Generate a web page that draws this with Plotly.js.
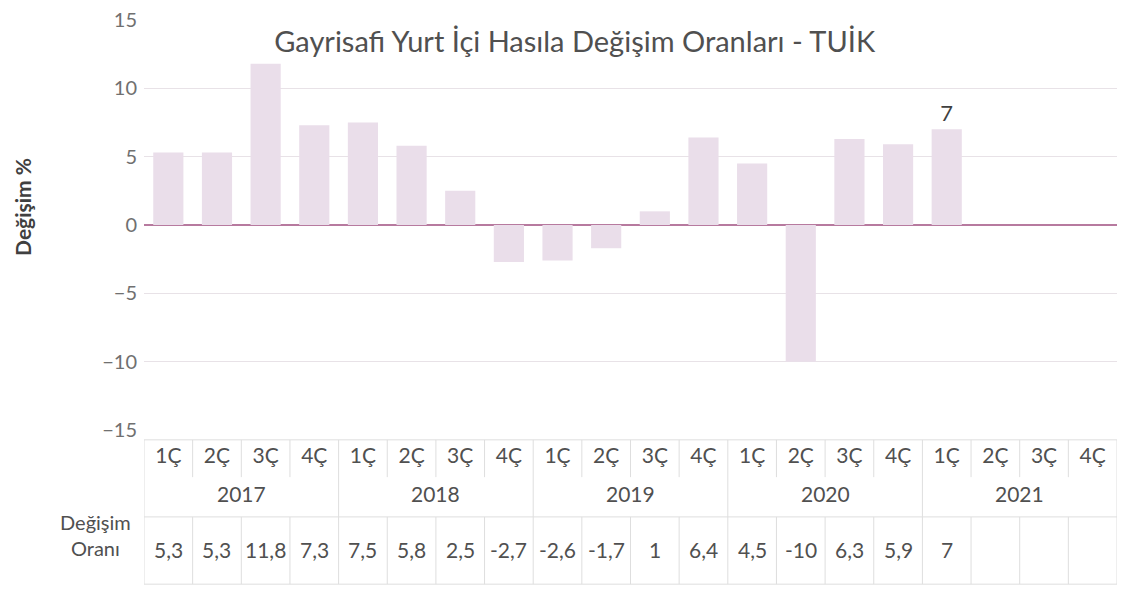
<!DOCTYPE html>
<html>
<head>
<meta charset="utf-8">
<script src="https://cdn.plot.ly/plotly-3.0.1.min.js"></script>
<style>
  html, body { margin: 0; padding: 0; background: #ffffff; }
  #chart { width: 1138px; height: 592px; }
</style>
</head>
<body>
<div id="chart"></div>
<script>
// ---- Data ----
var years = ["2017", "2018", "2019", "2020", "2021"];
var quarters = ["1Ç", "2Ç", "3Ç", "4Ç"];
var values = [5.3, 5.3, 11.8, 7.3, 7.5, 5.8, 2.5, -2.7, -2.6, -1.7, 1, 6.4, 4.5, -10, 6.3, 5.9, 7, null, null, null];
var labelledIndex = [16];              // only this bar carries a data label
var rowHeader = "Değişim<br>Oranı";
var chartTitle = "Gayrisafi Yurt İçi Hasıla Değişim Oranları - TUİK";
var yTitle = "Değişim %";

// ---- Build categories ----
var cats = [], tickText = [];
years.forEach(function (y) {
  quarters.forEach(function (q) { cats.push(y + "-" + q); tickText.push(q); });
});
function fmt(v) { return (v === null) ? "" : String(v).replace(".", ","); }
var barText = values.map(function (v, i) { return labelledIndex.indexOf(i) >= 0 ? fmt(v) : ""; });

var FONT = "Lato, 'Open Sans', 'DejaVu Sans', sans-serif";
var TXT = "#505050";

var trace = {
  type: "bar",
  x: cats,
  y: values,
  marker: { color: "#eadeea", line: { width: 0 } },
  text: barText,
  textposition: "outside",
  cliponaxis: false,
  textfont: { family: FONT, size: 22, color: "#404040" },
  hoverinfo: "none"
};

// table geometry (paper coordinates)
var T_TOP = -0.024, Q_BOT = -0.115, Y_BOT = -0.212, T_BOT = -0.376;
var gridCol = "#dedede";
var shapes = [];
function vline(x, y0, y1) {
  shapes.push({ type: "line", xref: "x", yref: "paper", x0: x, x1: x, y0: y0, y1: y1,
    line: { color: gridCol, width: 1 } });
}
function hline(y) {
  shapes.push({ type: "line", xref: "x", yref: "paper", x0: -0.5, x1: cats.length - 0.5, y0: y, y1: y,
    line: { color: gridCol, width: 1 } });
}
for (var k = 0; k <= cats.length; k++) {
  var xb = k - 0.5;
  if (k % quarters.length === 0) {
    vline(xb, T_TOP, Y_BOT);
  } else {
    vline(xb, T_TOP, Q_BOT);
  }
  vline(xb, Y_BOT, T_BOT);
}
hline(T_TOP); hline(Y_BOT); hline(T_BOT);

var annotations = [];
years.forEach(function (y, i) {
  annotations.push({ xref: "x", yref: "paper", x: i * quarters.length + (quarters.length - 1) / 2, y: -0.154,
    text: y, showarrow: false, font: { family: FONT, size: 21, color: TXT }, xanchor: "center", yanchor: "middle" });
});
values.forEach(function (v, i) {
  annotations.push({ xref: "x", yref: "paper", x: i, y: -0.292,
    text: fmt(v), showarrow: false, font: { family: FONT, size: 21, color: TXT }, xanchor: "center", yanchor: "middle" });
});
annotations.push({ xref: "paper", yref: "paper", x: -0.05, y: -0.257, text: rowHeader, showarrow: false,
  align: "center", font: { family: FONT, size: 20, color: TXT }, xanchor: "center", yanchor: "middle" });
annotations.push({ xref: "paper", yref: "paper", x: -0.125, y: 0.545, text: "<b>" + yTitle + "</b>", textangle: -90,
  showarrow: false, font: { family: FONT, size: 21, color: "#404040" }, xanchor: "center", yanchor: "middle" });

var layout = {
  width: 1138, height: 592,
  margin: { l: 144, r: 21, t: 20, b: 162 },
  paper_bgcolor: "#ffffff", plot_bgcolor: "#ffffff",
  showlegend: false,
  bargap: 0.38,
  hovermode: false,
  title: { text: chartTitle, x: 0.505, xref: "container", y: 0.93, yref: "container", xanchor: "center", yanchor: "middle",
    font: { family: FONT, size: 29, color: TXT } },
  xaxis: {
    type: "category", range: [-0.5, cats.length - 0.5],
    tickvals: cats, ticktext: tickText, ticks: "", ticklabelstandoff: 11,
    tickfont: { family: FONT, size: 21, color: TXT },
    showgrid: false, zeroline: false, showline: false, fixedrange: true
  },
  yaxis: {
    range: [-15, 15], dtick: 5, tick0: 0, ticks: "",
    tickfont: { family: FONT, size: 20, color: "#707070" }, ticklabelstandoff: 6,
    showgrid: true, gridcolor: "#e8e2e7", gridwidth: 1,
    zeroline: true, zerolinecolor: "#b77a9f", zerolinewidth: 1.4,
    showline: false, fixedrange: true
  },
  shapes: shapes,
  annotations: annotations
};

Plotly.newPlot("chart", [trace], layout, { staticPlot: true, displayModeBar: false });
</script>
</body>
</html>
